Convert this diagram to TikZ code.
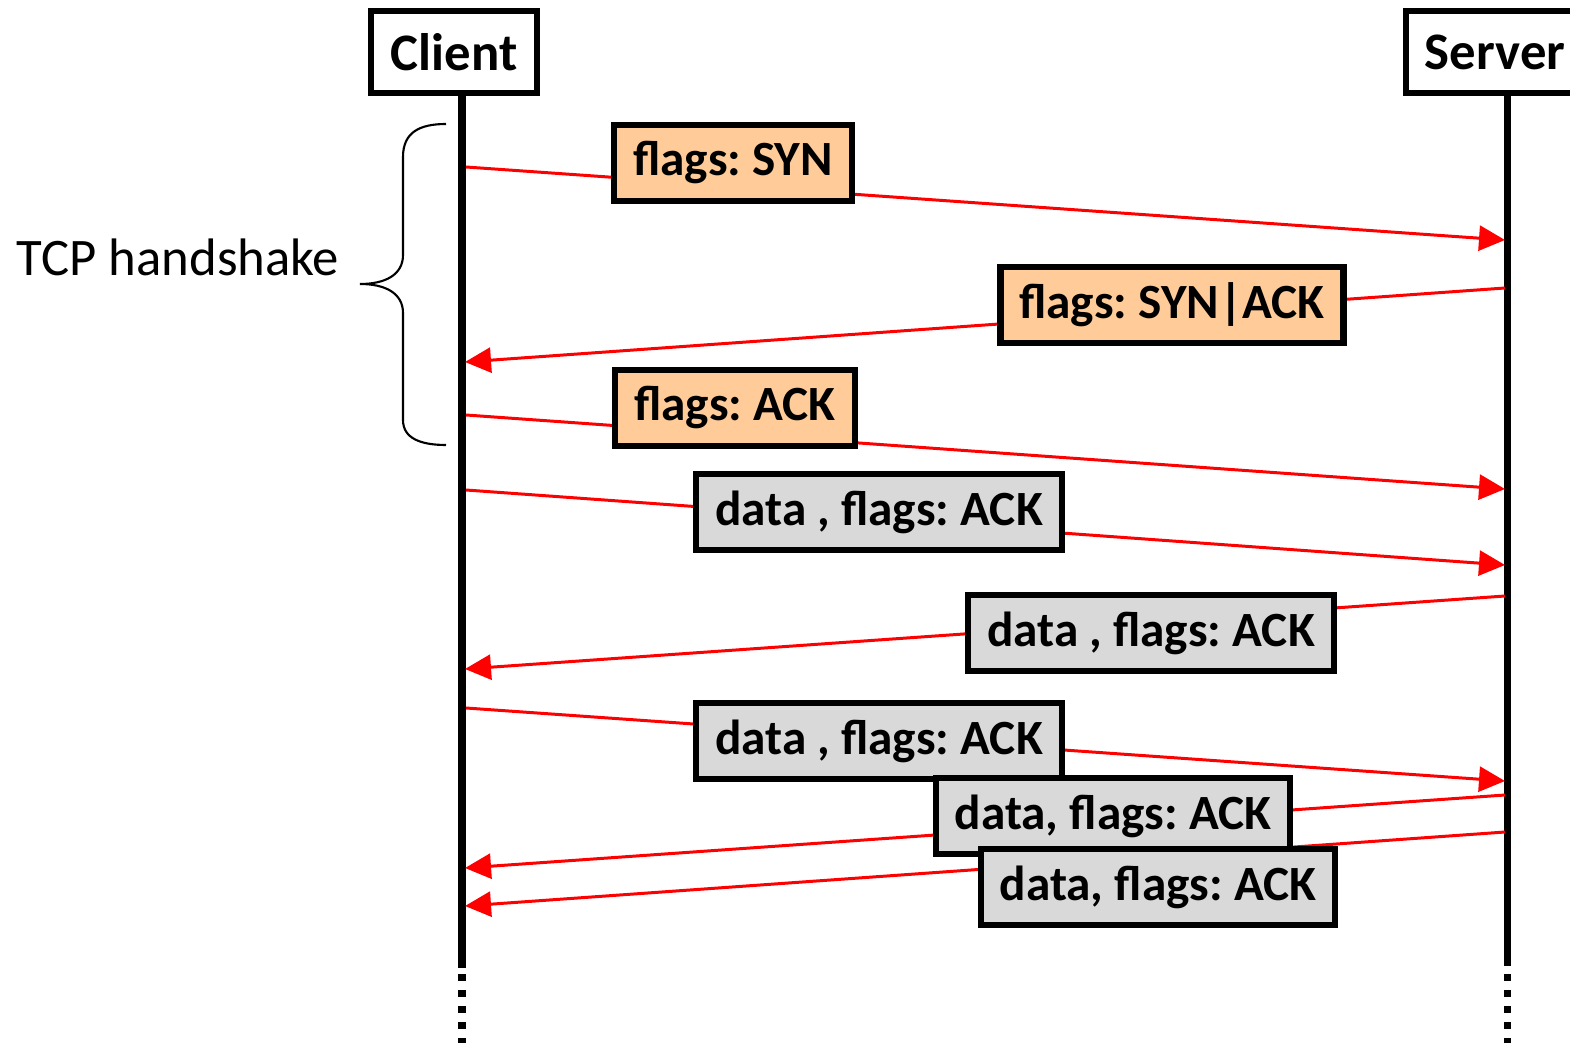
\documentclass[tikz,border=0pt]{standalone}
\usepackage{fontspec}
\setmainfont{Carlito}
\frenchspacing
\usetikzlibrary{arrows.meta, positioning}
\definecolor{ctlfill}{HTML}{FFCC99}
\definecolor{datfill}{HTML}{D9D9D9}

\begin{document}
\begin{tikzpicture}[x=0.01cm, y=-0.01cm,
        host/.style={draw, line width=1.6pt, inner xsep=0.19cm, minimum height=0.82cm, font=\bfseries\fontsize{15}{18}\selectfont},
        pkt/.style={draw, line width=1.8pt, inner xsep=0.19cm, minimum height=0.76cm, font=\bfseries\fontsize{14}{16}\selectfont},
        ctl/.style={pkt, fill=ctlfill},
        dat/.style={pkt, fill=datfill},
        msg/.style={red, line width=0.85pt, -{Triangle[length=0.26cm, width=0.25cm]}},
        life/.style={line width=2pt}]
        \useasboundingbox (0,0) rectangle (1570,1043);
        \clip (0,0) rectangle (1570,1043);

        % hosts and lifelines
        \node[host, minimum width=1.66cm] (client) at (454,52) {Client};
        \node[host, anchor=west] (server) at (1403,52) {Server};
        \coordinate (ctop) at (462,96);
        \coordinate (cend) at (462,968);
        \coordinate (cbot) at (462,1043);
        \coordinate (stop) at (1507,92);
        \coordinate (send) at (1507,966);
        \coordinate (sbot) at (1507,1043);
        \draw[life] (ctop) -- (cend);
        \draw[life] (stop) -- (send);
        \draw[line width=2pt, dash pattern=on 0.07cm off 0.09cm] (cend) ++(0,6) -- (cbot);
        \draw[line width=2pt, dash pattern=on 0.07cm off 0.09cm] (send) ++(0,8) -- (sbot);

        % message ends
        \coordinate (c1) at (466,167);  \coordinate (s1) at (1505,240);
        \coordinate (s2) at (1505,288); \coordinate (c2) at (465,362);
        \coordinate (c3) at (466,415);  \coordinate (s3) at (1505,489);
        \coordinate (c4) at (466,490);  \coordinate (s4) at (1505,565);
        \coordinate (s5) at (1505,596); \coordinate (c5) at (465,669);
        \coordinate (c6) at (466,708);  \coordinate (s6) at (1505,781);
        \coordinate (s7) at (1505,795); \coordinate (c7) at (465,868);
        \coordinate (s8) at (1505,832); \coordinate (c8) at (465,906);

        \draw[msg] (c1) -- (s1);
        \draw[msg] (s2) -- (c2);
        \draw[msg] (c3) -- (s3);
        \draw[msg] (c4) -- (s4);
        \draw[msg] (s5) -- (c5);
        \draw[msg] (c6) -- (s6);
        \draw[msg] (s7) -- (c7);
        \draw[msg] (s8) -- (c8);

        % packets
        \node[ctl] (syn) at (733,163) {flags: SYN};
        \node[ctl] (synack) at (1172,305) {flags: SYN|ACK};
        \node[ctl] (ack) at (735,408) {flags: ACK};
        \node[dat] (d1) at (879,512) {data , flags: ACK};
        \node[dat] (d2) at (1151,633) {data , flags: ACK};
        \node[dat] (d3) at (879,741) {data , flags: ACK};
        \node[dat] (d4) at (1113,816) {data, flags: ACK};
        \node[dat] (d5) at (1158,887) {data, flags: ACK};

        % handshake brace
        \draw[line width=0.6pt] (446,124) .. controls (420,124) and (403,132) .. (403,157) -- (403,255)
            .. controls (403,275) and (385,284) .. (360,284)
            .. controls (385,284) and (403,293) .. (403,313) -- (403,420)
            .. controls (403,438) and (420,445) .. (446,445);
        \node[font=\fontsize{15}{18}\selectfont] (hs) at (178,257) {TCP handshake};
    \end{tikzpicture}
\end{document}
